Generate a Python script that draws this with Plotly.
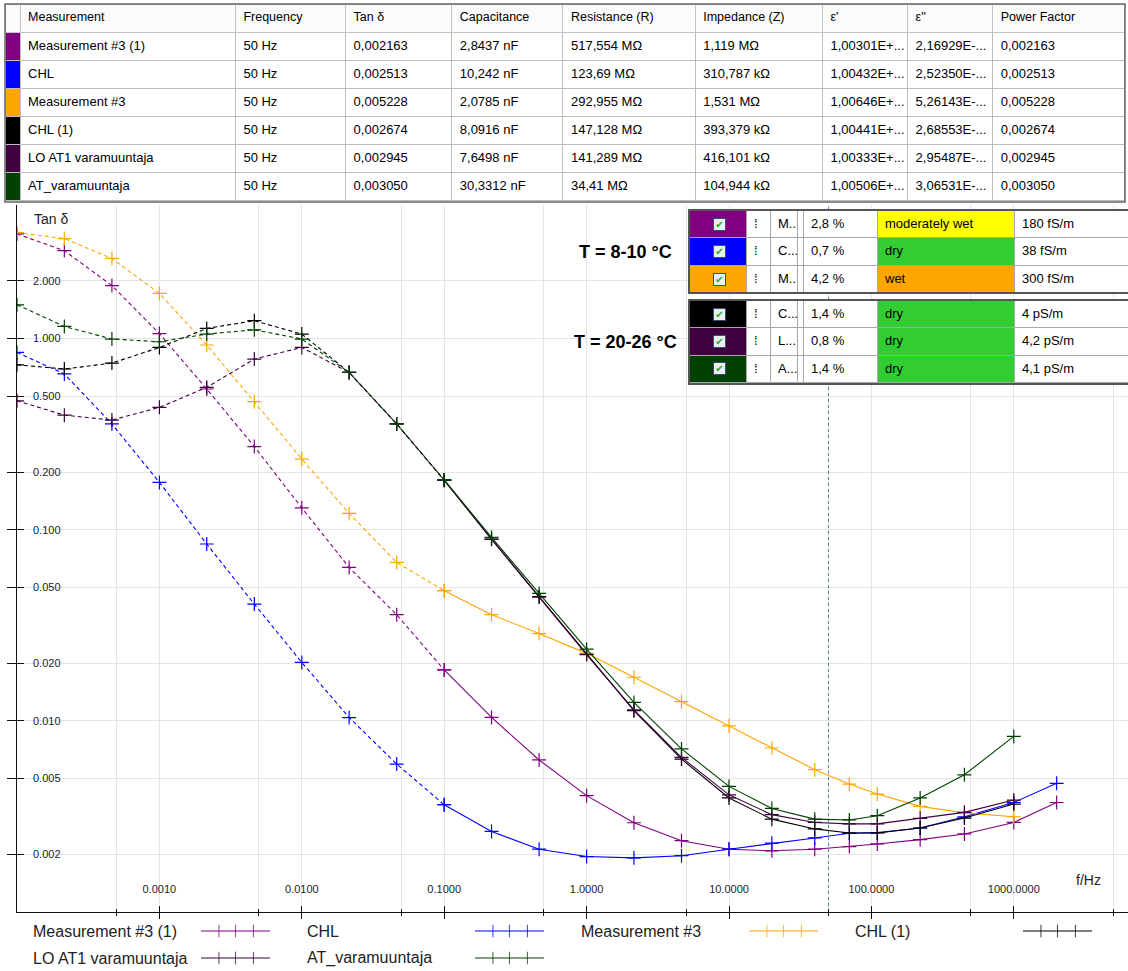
import math
import plotly.graph_objects as go

W, H = 1128, 971
FONT = "Liberation Sans"


def px(x):
    return x / W


def py(y):
    return 1 - y / H


# ---------------- data ----------------
freq = [1e-4, 2.15e-4, 4.64e-4, 1e-3, 2.15e-3, 4.64e-3, 0.01, 0.0215, 0.0464,
        0.1, 0.215, 0.464, 1, 2.15, 4.64, 10, 20, 40, 70, 110, 220, 450, 1000, 2000]

names = ["Measurement #3 (1)", "CHL", "Measurement #3", "CHL (1)",
         "LO AT1 varamuuntaja", "AT_varamuuntaja"]
colors = ["#800080", "#0000ff", "#ffa500", "#000000", "#400040", "#004000"]

tan_meas3_1 = [3.52, 2.88, 1.89, 1.06, 0.544, 0.272, 0.130, 0.0634, 0.0359, 0.01845,
               0.01042, 0.00624, 0.00406, 0.00293, 0.00236, 0.00213, 0.00209, 0.00213,
               0.0022, 0.00227, 0.00239, 0.00256, 0.00294, 0.00374]
tan_chl = [0.845, 0.652, 0.357, 0.1766, 0.0841, 0.0408, 0.0202, 0.0104, 0.00594, 0.00364,
           0.00264, 0.00213, 0.00195, 0.00192, 0.00197, 0.00213, 0.00229, 0.00244,
           0.00258, 0.0026, 0.00275, 0.00315, 0.00374, 0.00471]
tan_meas3 = [3.58, 3.33, 2.62, 1.72, 0.924, 0.467, 0.234, 0.1216, 0.0674, 0.0479,
             0.0359, 0.0286, 0.02253, 0.0169, 0.0126, 0.00942, 0.00721, 0.00555,
             0.00467, 0.00414, 0.00357, 0.0033, 0.00315]
tan_chl_1 = [0.728, 0.692, 0.743, 0.897, 1.128, 1.238, 1.054, 0.664, 0.357, 0.1817,
             0.0893, 0.0446, 0.0223, 0.0113, 0.0063, 0.00395, 0.00306, 0.00272,
             0.00259, 0.00259, 0.00275, 0.0031, 0.00367]
tan_lo_at1 = [0.472, 0.397, 0.374, 0.436, 0.555, 0.780, 0.897, 0.664, 0.357, 0.181,
              0.089, 0.0444, 0.0222, 0.0114, 0.00644, 0.0041, 0.00323, 0.00294,
              0.00289, 0.00289, 0.00309, 0.00332, 0.00385]
tan_at = [1.5, 1.156, 0.993, 0.961, 1.054, 1.11, 0.993, 0.664, 0.357, 0.182,
          0.091, 0.0464, 0.0237, 0.01248, 0.00713, 0.00454, 0.00348, 0.00306,
          0.00303, 0.00319, 0.00395, 0.00522, 0.00829]
series = [tan_meas3_1, tan_chl, tan_meas3, tan_chl_1, tan_lo_at1, tan_at]

split_freq = 0.1      # PDC-derived (dashed) below, FDS (solid) above
marker_freq = 50      # dashed cursor line

# table
table_headers = ["Measurement", "Frequency", "Tan δ", "Capacitance", "Resistance (R)",
                 "Impedance (Z)", "ε'", "ε''", "Power Factor"]
t_freq = ["50 Hz"] * 6
t_tan = ["0,002163", "0,002513", "0,005228", "0,002674", "0,002945", "0,003050"]
t_cap = ["2,8437 nF", "10,242 nF", "2,0785 nF", "8,0916 nF", "7,6498 nF", "30,3312 nF"]
t_res = ["517,554 MΩ", "123,69 MΩ", "292,955 MΩ", "147,128 MΩ", "141,289 MΩ", "34,41 MΩ"]
t_imp = ["1,119 MΩ", "310,787 kΩ", "1,531 MΩ", "393,379 kΩ", "416,101 kΩ", "104,944 kΩ"]
t_eps1 = ["1,00301E+...", "1,00432E+...", "1,00646E+...", "1,00441E+...", "1,00333E+...",
          "1,00506E+..."]
t_eps2 = ["2,16929E-...", "2,52350E-...", "5,26143E-...", "2,68553E-...", "2,95487E-...",
          "3,06531E-..."]
t_pf = ["0,002163", "0,002513", "0,005228", "0,002674", "0,002945", "0,003050"]

# moisture assessment box
box_short = ["M...", "C...", "M...", "C...", "L...", "A..."]
box_moist = ["2,8 %", "0,7 %", "4,2 %", "1,4 %", "0,8 %", "1,4 %"]
box_state = ["moderately wet", "dry", "wet", "dry", "dry", "dry"]
state_colors = {"moderately wet": "#ffff00", "dry": "#32cd32", "wet": "#ffa500"}
box_cond = ["180 fS/m", "38 fS/m", "300 fS/m", "4 pS/m", "4,2 pS/m", "4,1 pS/m"]
temp_labels = ["T = 8-10 °C", "T = 20-26 °C"]

x_major = [1e-3, 1e-2, 1e-1, 1, 10, 100, 1000]
x_major_text = ["0.0010", "0.0100", "0.1000", "1.0000", "10.0000", "100.0000", "1000.0000"]
x_minor = [5e-4, 5e-3, 5e-2, 0.5, 5, 50, 500, 5000]
y_major = [2, 1, 0.5, 0.2, 0.1, 0.05, 0.02, 0.01, 0.005, 0.002]
y_major_text = ["2.000", "1.000", "0.500", "0.200", "0.100", "0.050", "0.020", "0.010",
                "0.005", "0.002"]

# ---------------- layout constants ----------------
X_RANGE = [-4, 3.802]
Y_RANGE = [-3, 0.698]
AX_COLOR = "#111111"
GRID = "#e4e4e4"

fig = go.Figure()

# 50 Hz cursor line (drawn first, under the series)
fig.add_trace(go.Scatter(x=[marker_freq, marker_freq], y=[10 ** Y_RANGE[0], 10 ** Y_RANGE[1]],
                         mode="lines", line=dict(color="#3f8f7c", width=1, dash="3px,3px"),
                         showlegend=False, hoverinfo="skip", cliponaxis=True))

# series
for name, color, vals in zip(names, colors, series):
    f = freq[:len(vals)]
    lo = [(a, b) for a, b in zip(f, vals) if a <= split_freq]
    hi = [(a, b) for a, b in zip(f, vals) if a >= split_freq]
    mk = dict(symbol="cross-thin", size=10, color=color, line=dict(color=color, width=1.2))
    fig.add_trace(go.Scatter(x=[p[0] for p in lo], y=[p[1] for p in lo], mode="lines+markers",
                             line=dict(color=color, width=1.1, dash="4px,3px"), marker=mk,
                             name=name, showlegend=False, hoverinfo="skip"))
    fig.add_trace(go.Scatter(x=[p[0] for p in hi], y=[p[1] for p in hi], mode="lines+markers",
                             line=dict(color=color, width=1.1), marker=mk,
                             name=name, showlegend=False, hoverinfo="skip"))

# overlay axes only to draw the inner half of the crossing ticks
fig.add_trace(go.Scatter(x=[freq[0]], y=[tan_meas3_1[0]], xaxis="x3", yaxis="y3",
                         mode="markers", marker=dict(opacity=0), showlegend=False,
                         hoverinfo="skip"))

annotations = []

# y tick labels, inside the plot to the right of the axis
for v, t in zip(y_major, y_major_text):
    annotations.append(dict(x=px(31), xref="paper", y=math.log10(v), yref="y", text=t,
                            showarrow=False, xanchor="left", yanchor="middle",
                            font=dict(family=FONT, size=11, color="#222")))

# custom legend (text, then sample) below the axis
LEG_X0, LEG_STEP, LEG_SAMPLE_OFF, LEG_SAMPLE_LEN = 31, 274, 170, 69
LEG_ROW_Y, LEG_ROW_STEP = 931, 27
for i, (name, color) in enumerate(zip(names, colors)):
    col, row = i % 4, i // 4
    tx = LEG_X0 + col * LEG_STEP
    ty = LEG_ROW_Y + row * LEG_ROW_STEP
    s0 = tx + LEG_SAMPLE_OFF
    sx = [s0, s0 + LEG_SAMPLE_LEN * 0.26, s0 + LEG_SAMPLE_LEN * 0.5,
          s0 + LEG_SAMPLE_LEN * 0.76, s0 + LEG_SAMPLE_LEN]
    fig.add_trace(go.Scatter(x=sx, y=[ty] * 5, xaxis="x2", yaxis="y2", mode="lines+markers",
                             line=dict(color=color, width=1.1),
                             marker=dict(symbol="line-ns", size=[0, 9, 9, 9, 0],
                                         line=dict(color=color, width=1.1)),
                             showlegend=False, hoverinfo="skip"))
    annotations.append(dict(x=px(tx), y=py(ty), xref="paper", yref="paper", text=name,
                            showarrow=False, xanchor="left", yanchor="middle",
                            font=dict(family=FONT, size=16, color="#222")))

# top table
cell_font = dict(family=FONT, size=13, color="black")
fig.add_trace(go.Table(
    domain=dict(x=[px(5), px(1125)], y=[py(203), py(4)]),
    columnwidth=[15, 215, 110, 106, 111, 132, 127, 85, 85, 132],
    header=dict(values=[""] + table_headers, fill_color="#fbfbfb", line_color="#c4c4c4",
                align="left", height=28, font=dict(family=FONT, size=12.5, color="black")),
    cells=dict(values=[[""] * 6, names, t_freq, t_tan, t_cap, t_res, t_imp, t_eps1, t_eps2, t_pf],
               fill_color=[colors] + [["white"] * 6] * 9, line_color="#bdbdbd",
               align="left", height=28, font=cell_font),
))

# moisture box: two groups of three rows
BOX_WIDTHS = [57, 24, 27, 6, 74, 137, 114]
groups = [(0, 3, 210, 293), (3, 6, 300, 384)]
for g0, g1, top, bot in groups:
    idx = list(range(g0, g1))
    cols = [[""] * 3, ["⁞"] * 3, [box_short[i] for i in idx], [""] * 3,
            [box_moist[i] for i in idx], [box_state[i] for i in idx],
            [box_cond[i] for i in idx]]
    fills = [[colors[i] for i in idx], ["white"] * 3, ["white"] * 3, ["white"] * 3,
             ["white"] * 3, [state_colors[box_state[i]] for i in idx], ["white"] * 3]
    fig.add_trace(go.Table(
        domain=dict(x=[px(689), 1], y=[py(bot), py(top)]),
        columnwidth=BOX_WIDTHS,
        header=dict(values=[c[0] for c in cols], fill_color=[f[0] for f in fills],
                    line_color="#a8a8a8", align="left", height=27.5, font=cell_font),
        cells=dict(values=[c[1:] for c in cols], fill_color=[f[1:] for f in fills],
                   line_color="#a8a8a8", align="left", height=27.5, font=cell_font),
    ))
    for k in range(3):
        cy = top + 14 + k * 27.5
        annotations.append(dict(x=px(719), y=py(cy), xref="paper", yref="paper", text="✔",
                                showarrow=False, xanchor="center", yanchor="middle",
                                font=dict(family="DejaVu Sans", size=10, color="#1fae2a"),
                                bgcolor="#eeeeee", bordercolor="#2f4f78", borderwidth=1,
                                width=11, height=11, borderpad=0))

temp_y = [252, 342]
for lab, ty in zip(temp_labels, temp_y):
    annotations.append(dict(x=px(625), y=py(ty), xref="paper", yref="paper",
                            text="<b>%s</b>" % lab, showarrow=False, xanchor="center",
                            yanchor="middle", font=dict(family=FONT, size=18, color="black")))

annotations.append(dict(x=px(32), y=py(219), xref="paper", yref="paper", text="Tan δ",
                        showarrow=False, xanchor="left", yanchor="middle",
                        font=dict(family=FONT, size=14, color="#222")))
annotations.append(dict(x=px(1074), y=py(880), xref="paper", yref="paper", text="f/Hz",
                        showarrow=False, xanchor="left", yanchor="middle",
                        font=dict(family=FONT, size=14, color="#222")))

shapes = [
    dict(type="rect", xref="paper", yref="paper", x0=px(5), x1=px(1125), y0=py(202), y1=py(4),
         line=dict(color="#666", width=1.5), layer="above"),
]
for g0, g1, top, bot in groups:
    shapes.append(dict(type="rect", xref="paper", yref="paper", x0=px(689), x1=px(1130),
                       y0=py(bot), y1=py(top), line=dict(color="#555", width=2), layer="above"))

tickfont = dict(family=FONT, size=11, color="#222")
fig.update_layout(
    width=W, height=H, margin=dict(l=0, r=0, t=0, b=0), autosize=False,
    paper_bgcolor="white", plot_bgcolor="white", showlegend=False,
    xaxis=dict(type="log", domain=[px(17), 1], range=X_RANGE, anchor="y",
               tickvals=x_major, ticktext=x_major_text, ticks="outside", ticklen=6,
               tickwidth=1.2, tickcolor=AX_COLOR, ticklabelposition="inside",
               ticklabelstandoff=16, tickfont=tickfont,
               showline=True, linecolor=AX_COLOR, linewidth=1.3,
               showgrid=True, gridcolor=GRID, gridwidth=1.3, zeroline=False,
               minor=dict(tickvals=x_minor, ticks="outside", ticklen=3, tickcolor=AX_COLOR,
                          tickwidth=1.2, showgrid=True, gridcolor=GRID, gridwidth=1.3),
               fixedrange=True),
    yaxis=dict(type="log", domain=[py(912), py(205)], range=Y_RANGE, anchor="x",
               tickvals=y_major, ticks="outside", ticklen=9, showticklabels=False,
               tickwidth=1.2, tickcolor=AX_COLOR,
               showline=True, linecolor=AX_COLOR, linewidth=1.3,
               showgrid=True, gridcolor=GRID, gridwidth=1.3, zeroline=False, fixedrange=True),
    xaxis3=dict(type="log", overlaying="x", anchor="y3", range=X_RANGE,
                tickvals=x_major, ticks="inside", ticklen=6, tickwidth=1.2, tickcolor=AX_COLOR,
                showticklabels=False, showgrid=False, showline=False, zeroline=False,
                minor=dict(tickvals=x_minor, ticks="inside", ticklen=3, tickcolor=AX_COLOR,
                           tickwidth=1.2, showgrid=False)),
    yaxis3=dict(type="log", overlaying="y", anchor="x3", range=Y_RANGE,
                tickvals=y_major, ticks="inside", ticklen=7, tickwidth=1.2, tickcolor=AX_COLOR,
                showticklabels=False, showgrid=False, showline=False, zeroline=False),
    xaxis2=dict(domain=[0, 1], range=[0, W], anchor="y2", visible=False, fixedrange=True),
    yaxis2=dict(domain=[0, py(914)], range=[H, 914], anchor="x2", visible=False, fixedrange=True),
    annotations=annotations,
    shapes=shapes,
)

fig.write_html("out.html")
